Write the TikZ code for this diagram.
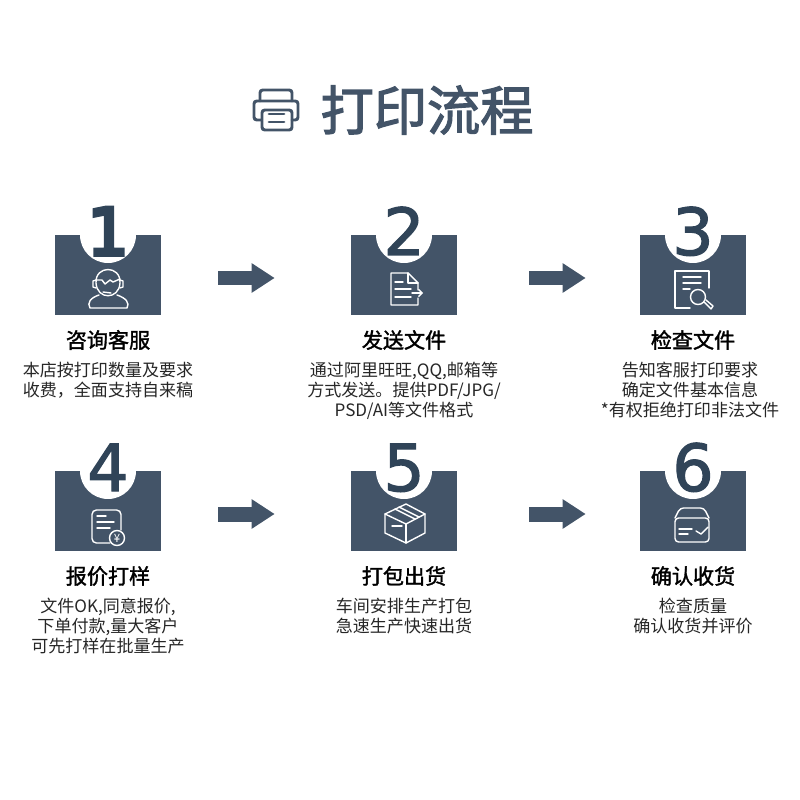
\documentclass[tikz,border=0pt]{standalone}
\usepackage{fontspec}
\usepackage{tikz}
\usepackage{xcolor}
\usetikzlibrary{arrows.meta}
\setmainfont{Noto Sans CJK SC}
\newfontfamily\numfont[FakeBold=1.8]{DejaVu Sans}
\newfontfamily\onefont[FakeBold=6]{DejaVu Sans}
\newfontfamily\headfont[FakeBold=1.6]{Noto Sans CJK SC}
\newfontfamily\titlefont[FakeBold=2.2]{Noto Sans CJK SC}
\definecolor{slate}{RGB}{67,84,104}
\definecolor{inkslate}{RGB}{48,68,88}
\begin{document}
\begin{tikzpicture}[x=0.02cm, y=-0.02cm,
  panel/.style={fill=slate, minimum width=2.12cm, minimum height=1.6cm, inner sep=0pt},
  notch/.style={circle, fill=white, minimum size=1.12cm, inner sep=0pt},
  digit/.style={anchor=base, text=inkslate, inner sep=0pt, font=\numfont\fontsize{37}{37}\selectfont},
  heading/.style={font=\headfont\fontsize{12}{14}\selectfont, text=black, inner sep=0pt},
  body/.style={font=\fontsize{9.7}{11.2}\selectfont, text=black!85, align=center, anchor=north, inner sep=0pt},
  icon/.style={draw=white, line width=0.8pt, line cap=round, line join=round},
  flowarrow/.style={draw=slate, line width=0.3cm, -{Triangle[length=0.46cm, width=0.56cm]}},
  printer/.style={draw=slate, line width=1.7pt, line cap=round, rounded corners=1.6pt}]
\useasboundingbox (0,0) rectangle (800,800);
\node[text=slate, font=\titlefont\fontsize{30.3}{32}\selectfont, inner sep=0pt] (title) at (427,110) {打印流程};
\draw[printer] (260,101) -- (260,90) -- (292,90) -- (292,101);
\draw[printer] (261,120) -- (254,120) -- (254,101) -- (298,101) -- (298,120) -- (292,120);
\draw[printer] (262,110) rectangle (292,130);
\draw[printer] (269,114) -- (284,114);
\draw[printer] (269,122) -- (284,122);

\node[panel] (panel1) at (108,275) {};
\node[panel] (panel2) at (404,275) {};
\node[panel] (panel3) at (693,275) {};
\node[panel] (panel4) at (108,511) {};
\node[panel] (panel5) at (404,511) {};
\node[panel] (panel6) at (693,511) {};
\node[notch] (notch1) at (108,235) {};
\node[notch] (notch2) at (404,235) {};
\node[notch] (notch3) at (693,235) {};
\node[notch] (notch4) at (108,471) {};
\node[notch] (notch5) at (404,471) {};
\node[notch] (notch6) at (693,471) {};
\node[digit] (digit1) at (108,255) {\onefont 1};
\node[digit] (digit2) at (404,255) {2};
\node[digit] (digit3) at (693,255) {3};
\node[digit] (digit4) at (108,491) {4};
\node[digit] (digit5) at (404,491) {5};
\node[digit] (digit6) at (693,491) {6};

\draw[flowarrow, shorten <=1.14cm, shorten >=1.52cm] ([yshift=-0.06cm]panel1.east) -- ([yshift=-0.06cm]panel2.west);
\draw[flowarrow, shorten <=1.44cm, shorten >=1.08cm] ([yshift=-0.06cm]panel2.east) -- ([yshift=-0.06cm]panel3.west);
\draw[flowarrow, shorten <=1.14cm, shorten >=1.52cm] ([yshift=-0.06cm]panel4.east) -- ([yshift=-0.06cm]panel5.west);
\draw[flowarrow, shorten <=1.44cm, shorten >=1.08cm] ([yshift=-0.06cm]panel5.east) -- ([yshift=-0.06cm]panel6.west);

\draw[icon] (96,283) .. controls (95,265) and (121,265) .. (120,283) .. controls (119,300) and (97,300) .. (96,283);
\draw[icon] (96,280) -- (102,280) -- (105,284) -- (110,280) -- (113,282) -- (120,279);
\draw[icon] (96,288) -- (93,287) -- (93,281) -- (96,280);
\draw[icon] (120,288) -- (123,287) -- (123,281) -- (120,280);
\draw[icon] (103,292) -- (111,293);
\draw[icon] (99,295) .. controls (90,298) and (87,303) .. (90,308) -- (127,308) .. controls (130,303) and (126,298) .. (117,295);

\draw[icon] (418,290) -- (418,283) -- (408,273) -- (391,273) -- (391,305) -- (418,305) -- (418,298);
\draw[icon] (408,273) -- (408,283) -- (418,283);
\draw[icon] (395,282) -- (403,282);
\draw[icon] (395,289) -- (411,289);
\draw[icon] (395,297) -- (411,297);
\draw[icon, -{Straight Barb[length=2pt]}] (412,293) -- (423,293);

\draw[icon] (709,288) -- (709,271) -- (675,271) -- (675,308) -- (690,308);
\draw[icon] (683,277) -- (701,277);
\draw[icon] (683,283) -- (701,283);
\draw[icon] (683,289) -- (690,289);
\draw[icon] (698,297) circle (7.5);
\draw[icon] (704,302) -- (711,309) -- (713,306) -- (706,300);

\draw[icon, rounded corners=2.5pt] (121,530) -- (121,510) -- (92,510) -- (92,543) -- (110,543);
\draw[icon] (97,516) -- (106,516);
\draw[icon] (97,522) -- (114,522);
\draw[icon] (97,528) -- (110,528);
\draw[icon] (117,538) circle (7.5);
\node[text=white, inner sep=0pt, font=\fontsize{6.5}{7}\selectfont] (yen) at (117,538) {¥};

\draw[icon] (406,504) -- (425,514) -- (425,533) -- (406,543) -- (385,533) -- (385,514) -- cycle;
\draw[icon] (385,514) -- (406,524) -- (425,514);
\draw[icon] (406,524) -- (406,543);
\draw[icon] (395,509) -- (415,519);
\draw[icon] (399,507) -- (419,517);
\draw[icon] (392,526) -- (402,526);

\draw[icon, rounded corners=2pt] (675,518) -- (680,508) -- (704,508) -- (709,518);
\draw[icon, rounded corners=2pt] (675,518) rectangle (709,542);
\draw[icon] (679,529) -- (692,529);
\draw[icon] (679,534) -- (688,534);
\draw[icon] (696,531) -- (701,534) -- (708,527);

\node[heading] (head1) at (108,340) {咨询客服};
\node[heading] (head2) at (404,340) {发送文件};
\node[heading] (head3) at (693,340) {检查文件};
\node[heading] (head4) at (108,576) {报价打样};
\node[heading] (head5) at (404,576) {打包出货};
\node[heading] (head6) at (693,576) {确认收货};
\node[body] (body1) at (108,362) {本店按打印数量及要求\\收费，全面支持自来稿};
\node[body] (body2) at (404,362) {通过阿里旺旺,QQ,邮箱等\\方式发送。提供PDF/JPG/\\PSD/AI等文件格式};
\node[body] (body3) at (690,362) {告知客服打印要求\\确定文件基本信息\\*有权拒绝打印非法文件};
\node[body] (body4) at (108,598) {文件OK,同意报价,\\下单付款,量大客户\\可先打样在批量生产};
\node[body] (body5) at (404,598) {车间安排生产打包\\急速生产快速出货};
\node[body] (body6) at (693,598) {检查质量\\确认收货并评价};
\end{tikzpicture}
\end{document}
